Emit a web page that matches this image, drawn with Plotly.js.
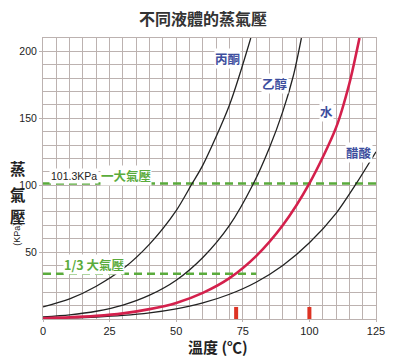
<!DOCTYPE html>
<html>
<head>
<meta charset="utf-8">
<script src="https://cdn.plot.ly/plotly-3.0.1.min.js"></script>
<style>html,body{margin:0;padding:0;background:#fff;}#chart{width:400px;height:357px;}</style>
</head>
<body>
<div id="chart"></div>
<script>
// Data
var acetoneT = [0, 10, 20, 30, 40, 50, 56, 60, 70, 78];
var acetoneP = [9, 15, 24.5, 37.5, 56, 81, 101.3, 115, 160, 210];
var ethanolT = [0, 10, 20, 30, 40, 50, 60, 70, 79, 85, 90, 94, 97];
var ethanolP = [1.6, 3.1, 5.8, 10.4, 17.8, 29, 46, 70, 101.3, 128, 155, 182, 210];
var waterT = [0, 10, 20, 30, 40, 50, 60, 70, 80, 90, 100, 110, 115, 118.8];
var waterP = [0.6, 1.2, 2.3, 4.2, 7.4, 12, 19.5, 30.5, 47, 70, 101.3, 143, 176, 210];
var aceticT = [0, 10, 20, 30, 40, 50, 60, 70, 80, 90, 100, 110, 117.6, 125];
var aceticP = [0.4, 0.8, 1.5, 2.7, 4.6, 7.6, 12, 18.5, 27.5, 40, 57, 79, 101.3, 125];
var atmX = [0, 125];
var atmP = [101.3, 101.3];
var thirdX = [0, 80];
var thirdP = [33.8, 33.8];
var markX = [72.5, 100];
var markH = [9, 9];
var xTickVals = [0, 25, 50, 75, 100, 125];
var yTickVals = [50, 100, 150, 200];

var grid = '#bcb2b0';
var green = '#5aab3c';
var blue = '#3d4e9e';
var dark = '#222222';
var cjk = '"Noto Sans CJK TC", "Noto Sans CJK SC", sans-serif';
var latin = '"Liberation Sans", Arial, sans-serif';

var yMinor = [];
for (var v = 0; v <= 210; v += 10) yMinor.push(v);
var xMinor = [];
for (var u = 0; u <= 125; u += 5) xMinor.push(u);

function curve(x, y, color, width) {
  return {x: x, y: y, type: 'scatter', mode: 'lines', line: {color: color, width: width, shape: 'spline', smoothing: 0.8}, hoverinfo: 'skip', cliponaxis: true};
}

var traces = [
  {x: atmX, y: atmP, type: 'scatter', mode: 'lines', line: {color: green, width: 2.5, dash: '8px,5px'}},
  {x: thirdX, y: thirdP, type: 'scatter', mode: 'lines', line: {color: green, width: 2.5, dash: '8px,5px'}},
  curve(acetoneT, acetoneP, dark, 1.3),
  curve(ethanolT, ethanolP, dark, 1.3),
  curve(aceticT, aceticP, dark, 1.3),
  curve(waterT, waterP, '#d4204c', 2.6),
  {x: markX, y: markH, type: 'bar', width: 1.5, marker: {color: '#dd3324'}}
];

var layout = {
  width: 400, height: 357,
  margin: {l: 43, r: 24, t: 38, b: 38},
  paper_bgcolor: '#ffffff', plot_bgcolor: '#ffffff',
  showlegend: false,
  xaxis: {
    range: [0, 125], tickmode: 'array', tickvals: xTickVals,
    showgrid: true, gridcolor: grid, gridwidth: 1,
    minor: {tickmode: 'array', tickvals: xMinor, showgrid: true, gridcolor: grid, gridwidth: 1, ticks: ''},
    ticks: 'outside', ticklen: 2, tickcolor: grid,
    showline: true, linecolor: grid, linewidth: 1, mirror: true,
    zeroline: false, fixedrange: true,
    tickfont: {family: latin, size: 11, color: dark}
  },
  yaxis: {
    range: [0, 210], tickmode: 'array', tickvals: yTickVals,
    showgrid: true, gridcolor: grid, gridwidth: 1,
    minor: {tickmode: 'array', tickvals: yMinor, showgrid: true, gridcolor: grid, gridwidth: 1, ticks: ''},
    ticks: 'outside', ticklen: 3, tickcolor: grid,
    showline: true, linecolor: grid, linewidth: 1, mirror: true,
    zeroline: false, fixedrange: true,
    tickfont: {family: latin, size: 10.5, color: dark}
  },
  annotations: [
    {text: '不同液體的蒸氣壓', xref: 'paper', yref: 'paper', x: 0.48, y: 1, yshift: 20, xanchor: 'center', yanchor: 'middle', showarrow: false, font: {family: cjk, size: 16, color: '#333333', weight: 'bold'}},
    {text: '蒸', xref: 'paper', yref: 'y', x: 0, xshift: -34, y: 112.5, showarrow: false, borderpad: 0, font: {family: cjk, size: 15.5, color: '#222', weight: 'bold'}},
    {text: '氣', xref: 'paper', yref: 'y', x: 0, xshift: -34, y: 93.5, showarrow: false, borderpad: 0, font: {family: cjk, size: 15.5, color: '#222', weight: 'bold'}},
    {text: '壓', xref: 'paper', yref: 'y', x: 0, xshift: -34, y: 77, showarrow: false, borderpad: 0, font: {family: cjk, size: 15.5, color: '#222', weight: 'bold'}},
    {text: '(KPa)', xref: 'paper', yref: 'y', x: 0, xshift: -33, y: 63, textangle: -90, showarrow: false, font: {family: latin, size: 9, color: '#222'}},
    {text: '溫度 (℃)', xref: 'x', yref: 'paper', x: 65.6, y: 0, yshift: -27, yanchor: 'middle', showarrow: false, borderpad: 0, font: {family: cjk, size: 15, color: '#222', weight: 'bold'}},
    {text: '丙酮', x: 69.1, y: 194.7, showarrow: false, bgcolor: '#ffffff', borderpad: 0, font: {family: cjk, size: 12.5, color: blue, weight: 'bold'}},
    {text: '乙醇', x: 87, y: 176.2, showarrow: false, bgcolor: '#ffffff', borderpad: 0, font: {family: cjk, size: 12.5, color: blue, weight: 'bold'}},
    {text: '水', x: 106.6, y: 155.1, showarrow: false, bgcolor: '#ffffff', borderpad: 0, font: {family: cjk, size: 12.5, color: blue, weight: 'bold'}},
    {text: '醋酸', x: 118.5, y: 124.7, showarrow: false, bgcolor: '#ffffff', borderpad: 0, font: {family: cjk, size: 12.5, color: blue, weight: 'bold'}},
    {text: '101.3KPa', x: 2.1, xanchor: 'left', y: 107.2, showarrow: false, bgcolor: '#ffffff', borderpad: 1, font: {family: latin, size: 10.5, color: '#222'}},
    {text: '一大氣壓', x: 21.5, xanchor: 'left', y: 107.2, showarrow: false, bgcolor: '#ffffff', borderpad: 0, font: {family: cjk, size: 12.5, color: green, weight: 'bold'}},
    {text: '1/3 大氣壓', x: 7.4, xanchor: 'left', y: 40.5, showarrow: false, bgcolor: '#ffffff', borderpad: 0, font: {family: cjk, size: 12.5, color: green, weight: 'bold'}}
  ]
};

Plotly.newPlot('chart', traces, layout, {staticPlot: true, displayModeBar: false});
</script>
</body>
</html>
